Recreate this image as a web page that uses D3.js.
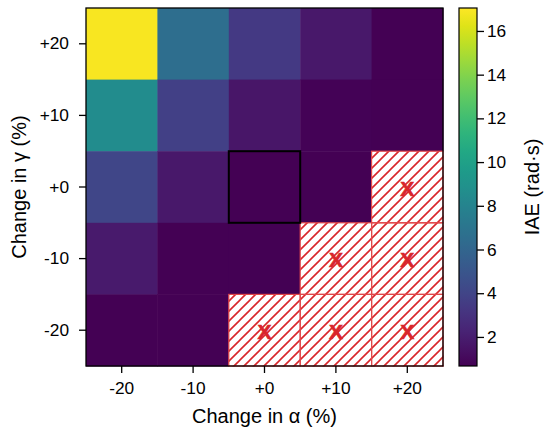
<!DOCTYPE html>
<html><head><meta charset="utf-8">
<script src="https://cdn.jsdelivr.net/npm/d3@7"></script>
<style>body{margin:0;background:#fff}svg{display:block;font-family:"Liberation Sans",Arial,sans-serif}</style>
</head><body><svg id="c" width="550" height="440"></svg>
<script>
const alphaLabels = ["-20","-10","+0","+10","+20"];
const gammaLabels = ["+20","+10","+0","-10","-20"];
// IAE values (rad·s); null = infeasible (hatched, marked X)
const row_p20 = [16.9, 6.5, 3.4, 1.7, 0.7];
const row_p10 = [8.6, 3.8, 1.6, 0.75, 0.7];
const row_p0  = [4.1, 1.7, 0.7, 0.72, null];
const row_m10 = [1.8, 0.72, 0.72, null, null];
const row_m20 = [0.7, 0.7, null, null, null];
const rows = [row_p20, row_p10, row_p0, row_m10, row_m20];
const cbTicks = [2,4,6,8,10,12,14,16];
const cbDomain = [0.67, 17.05];
const baseline = {alpha:"+0", gamma:"+0"};

const svg = d3.select("#c");
const L=86,R=443,T=8,B=366;
const FT = 17.3, FL = 20;
const x = d3.scaleBand().domain(alphaLabels).range([L,R]);
const y = d3.scaleBand().domain(gammaLabels).range([T,B]);
const color = d3.scaleSequential(d3.interpolateViridis).domain(cbDomain);
const red = "#d9262b";

const defs = svg.append("defs");
const P=10;
const pat = defs.append("pattern").attr("id","hatch").attr("patternUnits","userSpaceOnUse")
  .attr("width",P).attr("height",P);
pat.append("rect").attr("width",P).attr("height",P).attr("fill","#fff");
pat.append("path").attr("d",`M-1,1 l2,-2 M0,${P} l${P},-${P} M${P-1},${P+1} l2,-2`).attr("stroke",red).attr("stroke-width",1.6);

const cells = [];
rows.forEach((r,i)=>r.forEach((v,j)=>cells.push({g:gammaLabels[i],a:alphaLabels[j],v})));

svg.append("g").selectAll("rect").data(cells).join("rect")
  .attr("x",d=>x(d.a)).attr("y",d=>y(d.g))
  .attr("width",x.bandwidth()+0.5).attr("height",y.bandwidth()+0.5)
  .attr("fill",d=>d.v==null?"url(#hatch)":color(d.v));

const inf = cells.filter(d=>d.v==null);
svg.append("g").selectAll("rect").data(inf).join("rect")
  .attr("x",d=>x(d.a)).attr("y",d=>y(d.g))
  .attr("width",x.bandwidth()).attr("height",y.bandwidth())
  .attr("fill","none").attr("stroke","#e2474a").attr("stroke-width",1.2);
svg.append("g").selectAll("text").data(inf).join("text")
  .attr("x",d=>x(d.a)+x.bandwidth()/2).attr("y",d=>y(d.g)+y.bandwidth()/2+1)
  .attr("text-anchor","middle").attr("dominant-baseline","central")
  .attr("fill",red).attr("font-weight","bold").attr("font-size",21)
  .attr("stroke",red).attr("stroke-width",0.6).text("X");

svg.append("rect").attr("x",x(baseline.alpha)).attr("y",y(baseline.gamma))
  .attr("width",x.bandwidth()).attr("height",y.bandwidth())
  .attr("fill","none").attr("stroke","#000").attr("stroke-width",2);

svg.append("rect").attr("x",L).attr("y",T).attr("width",R-L).attr("height",B-T)
  .attr("fill","none").attr("stroke","#000").attr("stroke-width",1.3);

const xa = svg.append("g").attr("transform",`translate(0,${B})`)
  .call(d3.axisBottom(x).tickSize(7).tickPadding(9));
const ya = svg.append("g").attr("transform",`translate(${L},0)`)
  .call(d3.axisLeft(y).tickSize(7).tickPadding(10));
[xa,ya].forEach(a=>{a.select(".domain").remove();
  a.selectAll(".tick line").attr("stroke","#000").attr("stroke-width",1.3);
  a.selectAll("text").attr("font-size",FT).attr("fill","#000").attr("font-family","Liberation Sans, Arial, sans-serif");});

svg.append("text").attr("x",(L+R)/2).attr("y",423).attr("text-anchor","middle")
  .attr("font-size",FL).text("Change in α (%)");
svg.append("text").attr("transform",`translate(19,${(T+B)/2}) rotate(-90)`).attr("text-anchor","middle")
  .attr("dominant-baseline","central").attr("font-size",FL).text("Change in γ (%)");

// colorbar
const CL=459,CW=18;
const cy = d3.scaleLinear().domain(cbDomain).range([B,T]);
const grad = defs.append("linearGradient").attr("id","cb").attr("x1",0).attr("y1",1).attr("x2",0).attr("y2",0);
d3.range(0,1.0001,0.05).forEach(t=>grad.append("stop").attr("offset",t)
  .attr("stop-color",d3.interpolateViridis(t)));
svg.append("rect").attr("x",CL).attr("y",T).attr("width",CW).attr("height",B-T)
  .attr("fill","url(#cb)").attr("stroke","#000").attr("stroke-width",1.2);
const ca = svg.append("g").attr("transform",`translate(${CL+CW},0)`)
  .call(d3.axisRight(cy).tickValues(cbTicks).tickSize(7).tickPadding(3));
ca.select(".domain").remove();
ca.selectAll(".tick line").attr("stroke","#000").attr("stroke-width",1.3);
ca.selectAll("text").attr("font-size",FT).attr("fill","#000").attr("font-family","Liberation Sans, Arial, sans-serif");
svg.append("text").attr("transform",`translate(532,${(T+B)/2}) rotate(-90)`).attr("text-anchor","middle")
  .attr("dominant-baseline","central").attr("font-size",FL).text("IAE (rad·s)");
</script></body></html>
